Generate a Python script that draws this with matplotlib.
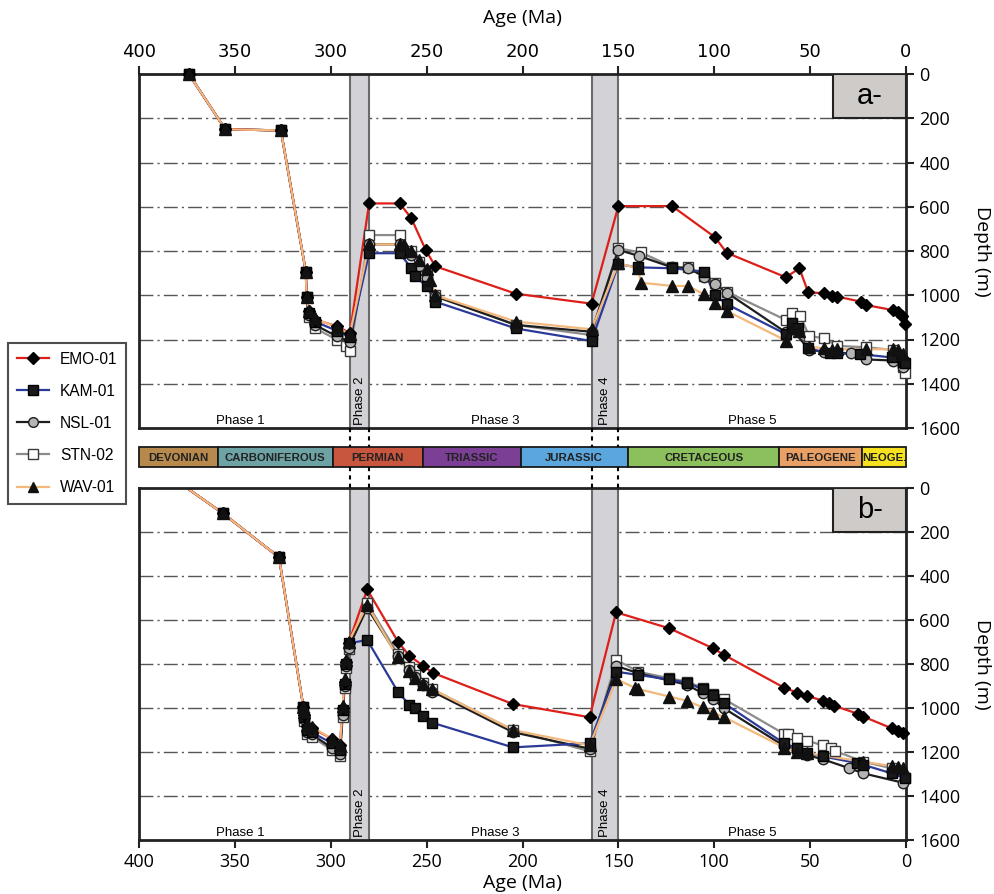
import matplotlib
matplotlib.use("Agg")
import matplotlib.pyplot as plt
from matplotlib.lines import Line2D
from matplotlib.patches import Rectangle
import matplotlib.transforms as mtransforms

# ---------------- burial history data (age in Ma, depth in m) ----------------
# Panel a
emo_a_age = [374, 355, 326, 313, 312.6, 311.5, 308, 297, 290, 280, 264, 258, 250.5, 245.5, 203.5, 164,
             150, 122, 99.6, 93.5, 62.6, 55.6, 51, 42.6, 38.8, 36, 23.5, 21, 7, 4, 2.3, 0.5]
emo_a_dep = [0, 250, 255, 893, 1010, 1070, 1110, 1140, 1170, 585, 585, 652, 795, 869, 993, 1038,
             597, 597, 738, 808, 919, 878, 987, 991, 1003, 1006, 1029, 1044, 1067, 1077, 1092, 1131]

kam_a_age = [374, 355, 326, 313, 312.6, 311.5, 308, 297, 290, 280, 264, 258, 256, 250, 245.5, 203.5, 164,
             150, 139.6, 122, 105.3, 99.6, 93.5, 62.6, 59.6, 56.2, 51, 39.6, 36, 24, 7.5, 1.4, 0.5]
kam_a_dep = [0, 250, 255, 893, 1010, 1080, 1120, 1160, 1190, 810, 810, 878, 913, 960, 1029, 1150, 1207,
             860, 874, 878, 893, 999, 1040, 1176, 1127, 1150, 1240, 1263, 1263, 1266, 1281, 1300, 1308]

nsl_a_age = [374, 355, 326, 313, 312.6, 311.5, 308, 297, 290, 280, 264, 258, 254, 250, 245.5, 203.5, 164,
             150, 139, 122, 113.5, 105.3, 99.6, 93.5, 62.6, 59.6, 50.5, 42.6, 28.7, 20.9, 7, 1.4]
nsl_a_dep = [0, 250, 255, 893, 1010, 1090, 1135, 1185, 1210, 770, 770, 820, 870, 920, 1005, 1134, 1165,
             795, 823, 874, 878, 916, 950, 988, 1168, 1152, 1247, 1256, 1263, 1290, 1295, 1323]

stn_a_age = [374, 355, 326, 313, 312.6, 311.5, 308, 297, 292, 290, 280, 264, 258, 254, 250, 245.5, 203.5,
             164, 150, 138.4, 122, 113.5, 105.3, 99.6, 93.5, 62.6, 59.6, 55.3, 50.5, 42.6, 35.8, 20.9,
             6.9, 1.4, 0.5]
stn_a_dep = [0, 250, 255, 893, 1010, 1100, 1150, 1200, 1230, 1250, 728, 728, 800, 850, 900, 1000, 1134,
             1180, 788, 806, 871, 874, 913, 946, 984, 1112, 1082, 1092, 1184, 1195, 1229, 1235,
             1247, 1323, 1350]

wav_a_age = [374, 355, 326, 313, 312.6, 311.5, 308, 297, 290, 280, 264, 262, 258, 254, 250, 248, 245.5,
             203.5, 164, 150, 139.6, 138.4, 122, 113.5, 105.3, 99.6, 93.5, 62.6, 59.6, 56, 50.5, 42.6,
             38.8, 36, 20.9, 6.9, 4, 1.4]
wav_a_dep = [0, 250, 255, 893, 1010, 1070, 1105, 1145, 1175, 770, 770, 775, 800, 840, 880, 930, 1000,
             1119, 1154, 856, 878, 943, 958, 958, 996, 1034, 1071, 1205, 1150, 1160, 1232, 1240,
             1247, 1244, 1244, 1244, 1247, 1266]

# Panel b
emo_b_age = [375, 356.3, 327, 314.3, 314, 312.6, 310, 299.5, 295.2, 293.8, 292.8, 292, 290.7, 281, 264.8,
             259, 251.7, 246.8, 205, 165, 151.2, 123.4, 100.5, 94.8, 63.5, 56.7, 51.8, 43.4, 40, 37.4,
             24.9, 22.3, 7.5, 4, 1.4]
emo_b_dep = [0, 115, 315, 994, 1030, 1080, 1090, 1140, 1170, 1000, 880, 790, 706, 461, 701,
             762, 809, 840, 982, 1042, 565, 638, 729, 759, 908, 930, 944, 967, 979, 990,
             1027, 1039, 1092, 1104, 1115]

kam_b_age = [375, 356.3, 327, 314.3, 314, 312.6, 310, 299.5, 295.2, 293.8, 292.8, 292, 290.7, 281, 265,
             259, 256, 251.7, 247, 205, 165, 151, 139.6, 123.4, 114.4, 106, 100.5, 94.8, 63.5, 56.7,
             51.7, 43.4, 25.7, 22.3, 7.5, 0.5]
kam_b_dep = [0, 115, 315, 994, 1040, 1100, 1110, 1160, 1190, 1010, 890, 800, 706, 691, 926,
             986, 1000, 1036, 1067, 1179, 1160, 835, 850, 870, 885, 915, 940, 979, 1161, 1183,
             1205, 1220, 1250, 1258, 1297, 1320]

nsl_b_age = [375, 356.3, 327, 314.3, 314, 312.6, 310, 299.5, 295.2, 293.8, 292.8, 292, 290.7, 281, 265,
             259, 256, 251.7, 247, 205, 165, 151, 139.6, 114.4, 106, 100.5, 94.8, 63.5, 56.7, 51.7,
             43.4, 29.5, 22.3, 1.4]
nsl_b_dep = [0, 115, 315, 994, 1050, 1110, 1120, 1180, 1210, 1030, 900, 810, 725, 545, 765,
             825, 860, 895, 925, 1110, 1185, 809, 842, 894, 933, 960, 1002, 1173, 1194, 1214,
             1233, 1274, 1297, 1340]

stn_b_age = [375, 356.3, 327, 314.3, 314, 312.6, 310, 299.5, 295.2, 293.8, 292.8, 292, 290.7, 281, 265,
             259, 256, 251.7, 247, 205, 165, 151, 139.6, 123.4, 114.4, 106, 100.5, 94.8, 63.5, 61.5,
             56.7, 51.7, 43.4, 39, 37, 22.3, 7.5, 0.5]
stn_b_dep = [0, 115, 315, 994, 1060, 1120, 1130, 1190, 1220, 1040, 910, 820, 730, 524, 755,
             815, 850, 885, 915, 1100, 1197, 782, 835, 865, 880, 908, 936, 960, 1118, 1120,
             1138, 1148, 1170, 1183, 1195, 1244, 1274, 1320]

wav_b_age = [375, 356.3, 327, 314.3, 314, 312.6, 310, 299.5, 295.2, 293.8, 292.8, 292, 290.7, 281, 265,
             259, 256, 251.7, 247, 205, 165, 151, 141.3, 139.6, 123.4, 114.4, 106, 100.5, 94.8, 63.5,
             56.7, 51.7, 22.3, 7.5, 4, 1.4]
wav_b_dep = [0, 115, 315, 994, 1020, 1075, 1085, 1140, 1170, 990, 870, 780, 700, 532, 770,
             830, 865, 890, 915, 1100, 1170, 870, 908, 914, 948, 967, 997, 1021, 1042, 1180,
             1198, 1205, 1244, 1264, 1267, 1274]

wells = ["EMO-01", "KAM-01", "NSL-01", "STN-02", "WAV-01"]

# Geological periods (start, end in Ma)
periods = ["DEVONIAN", "CARBONIFEROUS", "PERMIAN", "TRIASSIC", "JURASSIC", "CRETACEOUS", "PALEOGENE", "NEOGE."]
period_start = [400, 359, 299, 252, 201, 145, 66, 23]
period_end = [359, 299, 252, 201, 145, 66, 23, 0]
period_colors = ["#b8894d", "#6ea3a5", "#c8553d", "#7b3f96", "#5ba6dc", "#8bc05c", "#e8a065", "#f6e21f"]

# Phase bands and labels
phase_bands = [(290, 280), (164, 150)]
phase_names_flat = ["Phase 1", "Phase 3", "Phase 5"]
phase_flat_x = [347, 214, 80]
phase_names_rot = ["Phase 2", "Phase 4"]
phase_rot_x = [285, 157]

# ---------------- styles ----------------
styles = {
    "EMO-01": dict(color="#dd1f1a", marker="D", mfc="black", mec="black", ms=6.5),
    "KAM-01": dict(color="#2b3a98", marker="s", mfc="#1a1a1a", mec="black", ms=7.5),
    "NSL-01": dict(color="#1e1e1e", marker="o", mfc="#b4b4b4", mec="#1e1e1e", ms=7.5),
    "STN-02": dict(color="#8c8c8c", marker="s", mfc="white", mec="#3a3a3a", ms=7.5),
    "WAV-01": dict(color="#f2b87c", marker="^", mfc="#111111", mec="#111111", ms=8),
}

tick_font = "Open Sans"
text_font = ["Liberation Sans", "DejaVu Sans"]

fig = plt.figure(figsize=(9.95, 8.94), dpi=100)

L, R = 139 / 995, 906 / 995
ax_a = fig.add_axes([L, 1 - 428 / 894, R - L, (428 - 74) / 894])
ax_bar = fig.add_axes([L, 1 - 467 / 894, R - L, 20 / 894])
ax_b = fig.add_axes([L, 1 - 840 / 894, R - L, (840 - 488) / 894])

panel_data = {
    "a": {"EMO-01": (emo_a_age, emo_a_dep), "KAM-01": (kam_a_age, kam_a_dep),
          "NSL-01": (nsl_a_age, nsl_a_dep), "STN-02": (stn_a_age, stn_a_dep),
          "WAV-01": (wav_a_age, wav_a_dep)},
    "b": {"EMO-01": (emo_b_age, emo_b_dep), "KAM-01": (kam_b_age, kam_b_dep),
          "NSL-01": (nsl_b_age, nsl_b_dep), "STN-02": (stn_b_age, stn_b_dep),
          "WAV-01": (wav_b_age, wav_b_dep)},
}

line_order = ["STN-02", "NSL-01", "KAM-01", "EMO-01", "WAV-01"]
marker_order = ["STN-02", "NSL-01", "KAM-01", "EMO-01", "WAV-01"]

for key, ax in (("a", ax_a), ("b", ax_b)):
    ax.set_xlim(400, 0)
    ax.set_ylim(1600, 0)
    ax.set_yticks(range(0, 1601, 200))
    ax.set_xticks(range(0, 401, 50))
    for y in range(200, 1600, 200):
        ax.axhline(y, color="#555555", lw=1.0, ls=(0, (10, 3, 1.5, 3)), zorder=0.5)
    for (a0, a1) in phase_bands:
        ax.axvspan(a1, a0, facecolor="#d3d3d7", edgecolor="none", zorder=1)
        ax.axvline(a0, color="#6a6a6a", lw=1.5, zorder=1.1)
        ax.axvline(a1, color="#6a6a6a", lw=1.5, zorder=1.1)
    mstart = 0 if key == "a" else 1
    for w in line_order:
        x, y = panel_data[key][w]
        ax.plot(x, y, color=styles[w]["color"], lw=1.6, zorder=2)
    for w in marker_order:
        x, y = panel_data[key][w]
        st = styles[w]
        ax.plot(x[mstart:], y[mstart:], ls="none", marker=st["marker"], mfc=st["mfc"],
                mec=st["mec"], ms=st["ms"], mew=1.0, zorder=3, clip_on=False)
    for name, xp in zip(phase_names_flat, phase_flat_x):
        ax.text(xp, 1570, name, ha="center", va="center", fontsize=9.5, family=text_font, zorder=4)
    for name, xp in zip(phase_names_rot, phase_rot_x):
        ax.text(xp, 1585, name, ha="center", va="bottom", rotation=90, fontsize=9.5,
                family=text_font, zorder=4)
    # panel tag box
    ax.add_patch(Rectangle((38, 0), -38, 200, facecolor="#cfcbc9", edgecolor="#222222",
                           lw=1.5, zorder=5))
    ax.text(19, 100, key + "-", ha="center", va="center", fontsize=21, family=text_font, zorder=6)

    for side in ax.spines.values():
        side.set_linewidth(2.0)
        side.set_color("#222222")
    ax.yaxis.tick_right()
    ax.yaxis.set_label_position("right")
    ax.set_ylabel("Depth (m)", rotation=270, labelpad=22, fontsize=14, family=tick_font)
    ax.tick_params(axis="both", direction="out", length=6, width=1.5, labelsize=13, color="#222222")
    for lab in ax.get_xticklabels() + ax.get_yticklabels():
        lab.set_family(tick_font)

ax_a.xaxis.tick_top()
ax_a.xaxis.set_label_position("top")
ax_a.set_xlabel("Age (Ma)", fontsize=14, family=tick_font, labelpad=14)
ax_b.set_xlabel("Age (Ma)", fontsize=14, family=tick_font, labelpad=2)

# geological time scale bar
ax_bar.set_xlim(400, 0)
ax_bar.set_ylim(0, 1)
ax_bar.axis("off")
for name, s, e, c in zip(periods, period_start, period_end, period_colors):
    ax_bar.add_patch(Rectangle((e, 0), s - e, 1, facecolor=c, edgecolor="#1a1a1a", lw=1.3,
                               clip_on=False))
    ax_bar.text((s + e) / 2, 0.46, name, ha="center", va="center", fontsize=8.2,
                fontweight="bold", color="#222222",
                family=["Liberation Sans Narrow", "Liberation Sans", "DejaVu Sans"])

# dotted connectors at the phase boundaries between the panels
trans = mtransforms.blended_transform_factory(ax_a.transData, fig.transFigure)
for (a0, a1) in phase_bands:
    for xa in (a0, a1):
        for (y0, y1) in ((428, 447), (467, 488)):
            fig.add_artist(Line2D([xa, xa], [1 - y0 / 894, 1 - y1 / 894], transform=trans,
                                  color="black", lw=1.5, ls=(0, (2, 2))))

# legend
handles = [Line2D([], [], color=styles[w]["color"], lw=1.6, marker=styles[w]["marker"],
                  mfc=styles[w]["mfc"], mec=styles[w]["mec"], ms=styles[w]["ms"] - 0.5)
           for w in wells]
leg = fig.legend(handles, wells, loc="upper left", bbox_to_anchor=(8 / 995, 1 - 343 / 894),
                 frameon=True, fancybox=False, edgecolor="#222222", borderaxespad=0,
                 handlelength=2.1, labelspacing=1.1, borderpad=0.55, handletextpad=0.7,
                 prop={"family": text_font, "size": 11.2})
leg.get_frame().set_linewidth(1.5)

fig.savefig("out.png", dpi=100)
